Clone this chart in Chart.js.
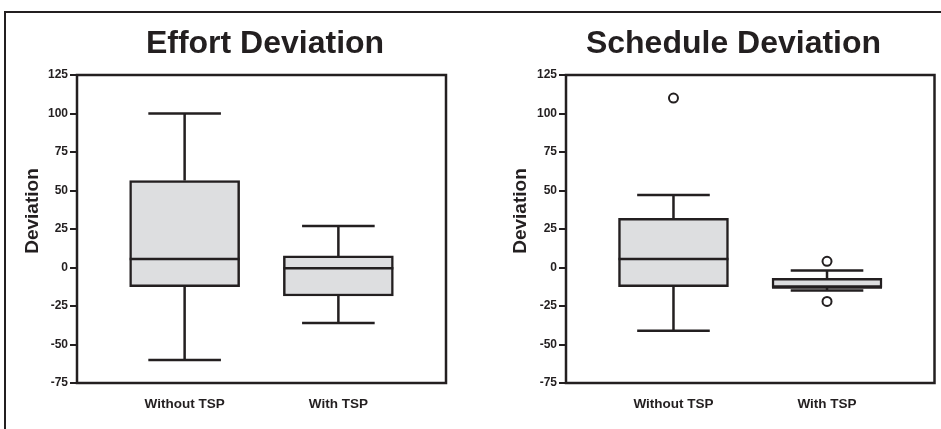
<!DOCTYPE html>
<html>
<head>
<meta charset="utf-8">
<script src="https://cdn.jsdelivr.net/npm/chart.js@4.4.1/dist/chart.umd.min.js"></script>
<style>
  body { margin: 0; background: #fff; width: 941px; height: 429px; overflow: hidden; position: relative; }
  #marco { position: absolute; left: 4px; top: 11px; width: 945px; height: 430px;
           border-left: 2.5px solid #231f20; border-top: 2.5px solid #231f20; }
  canvas { position: absolute; top: 0; }
</style>
</head>
<body>
<div id="marco"></div>
<canvas id="effortChart" width="470" height="429" style="left:0"></canvas>
<canvas id="scheduleChart" width="471" height="429" style="left:470px"></canvas>

<script>
// Datos
const categories = ['Without TSP', 'With TSP'];
const yTicks = [-75, -50, -25, 0, 25, 50, 75, 100, 125];

const effortMin = [-60, -36];
const effortQ1 = [-12.5, -18.5];
const effortMedian = [5.5, -0.5];
const effortQ3 = [56.5, 7.5];
const effortMax = [100, 27];
const effortOutlierCat = [];
const effortOutlierVal = [];

const scheduleMin = [-41, -15];
const scheduleQ1 = [-12.5, -13];
const scheduleMedian = [5.5, -13];
const scheduleQ3 = [32, -7];
const scheduleMax = [47, -2];
const scheduleOutlierCat = [0, 1, 1];
const scheduleOutlierVal = [110, 4, -22];

const INK = '#231f20';
const FILL = '#dddee0';
const FAMILIA = '"Liberation Sans", Arial, Helvetica, sans-serif';

// Bigotes, medianas y marco del área del gráfico
const cajaPlugin = {
    id: 'caja',
    afterDatasetsDraw(chart, args, opts) {
        const { ctx, scales: { x, y } } = chart;
        const meta = chart.getDatasetMeta(0);
        ctx.save();
        ctx.strokeStyle = INK;
        ctx.lineWidth = 2.5;
        opts.median.forEach((m, i) => {
            const bar = meta.data[i];
            const cx = x.getPixelForValue(i);
            const half = bar.width / 2;
            const cap = half * 0.66;
            const yMax = y.getPixelForValue(opts.max[i]);
            const yMin = y.getPixelForValue(opts.min[i]);
            const yQ1 = y.getPixelForValue(opts.q1[i]);
            const yQ3 = y.getPixelForValue(opts.q3[i]);
            const yMed = y.getPixelForValue(m);
            ctx.beginPath();
            ctx.moveTo(cx, yQ3); ctx.lineTo(cx, yMax);
            ctx.moveTo(cx - cap, yMax); ctx.lineTo(cx + cap, yMax);
            ctx.moveTo(cx, yQ1); ctx.lineTo(cx, yMin);
            ctx.moveTo(cx - cap, yMin); ctx.lineTo(cx + cap, yMin);
            ctx.moveTo(cx - half, yMed); ctx.lineTo(cx + half, yMed);
            ctx.stroke();
        });
        const a = chart.chartArea;
        ctx.strokeRect(a.left, a.top, a.right - a.left, a.bottom - a.top);
        ctx.restore();
    }
};

// Título del gráfico y título del eje Y
const textosPlugin = {
    id: 'textos',
    afterDraw(chart, args, opts) {
        const ctx = chart.ctx;
        ctx.save();
        ctx.fillStyle = INK;
        ctx.textAlign = 'center';
        ctx.textBaseline = 'middle';
        ctx.font = 'bold 32px ' + FAMILIA;
        ctx.fillText(opts.titulo, opts.tituloX, opts.tituloY);
        ctx.translate(opts.ejeX, opts.ejeY);
        ctx.rotate(-Math.PI / 2);
        ctx.font = 'bold 19px ' + FAMILIA;
        ctx.fillText(opts.ejeTexto, 0, 0);
        ctx.restore();
    }
};

function initChart(id, titulo, mins, q1s, meds, q3s, maxs, outCat, outVal, lay) {
    const ctx = document.getElementById(id).getContext('2d');
    return new Chart(ctx, {
        type: 'bar',
        data: {
            datasets: [
                {
                    type: 'bar',
                    data: categories.map((c, i) => ({ x: i, y: [q1s[i], q3s[i]] })),
                    backgroundColor: FILL,
                    borderColor: INK,
                    borderWidth: 2.5,
                    borderSkipped: false,
                    barThickness: 110
                },
                {
                    type: 'scatter',
                    data: outCat.map((c, k) => ({ x: c, y: outVal[k] })),
                    pointStyle: 'circle',
                    pointRadius: 4.5,
                    pointBorderWidth: 2,
                    pointBorderColor: INK,
                    pointBackgroundColor: 'rgba(0,0,0,0)'
                }
            ]
        },
        options: {
            responsive: false,
            animation: false,
            layout: { padding: { left: lay.padLeft, right: lay.padRight, top: 75, bottom: 0 } },
            plugins: {
                legend: { display: false },
                tooltip: { enabled: false },
                title: { display: false },
                caja: { min: mins, q1: q1s, median: meds, q3: q3s, max: maxs },
                textos: {
                    titulo: titulo, tituloX: lay.tituloX, tituloY: 44,
                    ejeTexto: 'Deviation', ejeX: lay.ejeX, ejeY: 211
                }
            },
            scales: {
                x: {
                    type: 'linear',
                    min: -0.7,
                    max: 1.7,
                    offset: false,
                    afterBuildTicks: (scale) => { scale.ticks = categories.map((c, i) => ({ value: i })); },
                    afterFit: (scale) => { scale.height = 46; },
                    grid: { display: false, drawTicks: false },
                    border: { display: false },
                    ticks: {
                        autoSkip: false,
                        maxRotation: 0,
                        padding: 13,
                        color: INK,
                        font: { family: FAMILIA, size: 13.5, weight: 'bold' },
                        callback: (v) => categories[v] ?? ''
                    }
                },
                y: {
                    min: -75,
                    max: 125,
                    afterBuildTicks: (scale) => { scale.ticks = yTicks.map(v => ({ value: v })); },
                    afterFit: (scale) => { scale.width = 60; },
                    grid: { display: true, drawOnChartArea: false, drawTicks: true, tickLength: 7, color: INK, lineWidth: 2 },
                    border: { display: false },
                    ticks: {
                        padding: 2,
                        color: INK,
                        font: { family: FAMILIA, size: 12, weight: 'bold' }
                    }
                }
            }
        },
        plugins: [cajaPlugin, textosPlugin]
    });
}

initChart('effortChart', 'Effort Deviation',
    effortMin, effortQ1, effortMedian, effortQ3, effortMax, effortOutlierCat, effortOutlierVal,
    { padLeft: 17, padRight: 24, tituloX: 265, ejeX: 32.5 });

initChart('scheduleChart', 'Schedule Deviation',
    scheduleMin, scheduleQ1, scheduleMedian, scheduleQ3, scheduleMax, scheduleOutlierCat, scheduleOutlierVal,
    { padLeft: 36, padRight: 6, tituloX: 263.5, ejeX: 50.5 });
</script>
</body>
</html>
